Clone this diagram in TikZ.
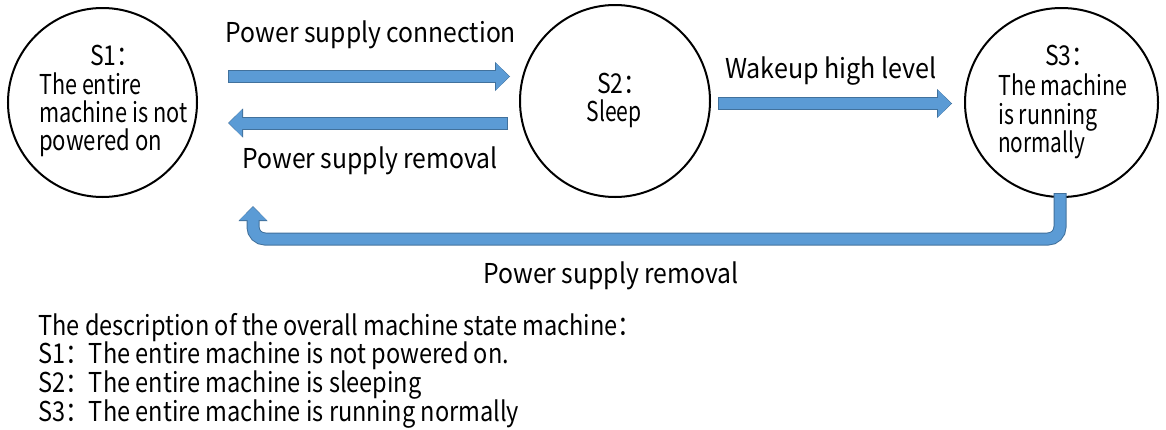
\documentclass[tikz,border=0pt]{standalone}
\usepackage{graphicx}
\usepackage{fontspec}
\setmainfont{Noto Sans CJK SC}
\usetikzlibrary{arrows.meta,shapes.geometric}
\definecolor{afill}{HTML}{5B9BD5}
\definecolor{aedge}{HTML}{41719C}
\newcommand{\fw}[2]{\resizebox{#1pt}{\height}{#2}}
\begin{document}
\begin{tikzpicture}[x=0.75pt,y=-0.75pt,
  state/.style={draw=black, line width=1.5pt, ellipse, inner sep=0pt},
  txt/.style={font=\fontsize{20.5}{22}\selectfont, inner sep=0pt, text height=0.75em, text depth=0.25em},
  bout/.style={draw=aedge, line width=9.75pt, -{Triangle[length=11.25pt,width=21.75pt,line width=0pt]}},
  bin/.style={draw=afill, line width=8.25pt, shorten <=0.75pt, shorten >=0.75pt, -{Triangle[length=9.75pt,width=20.25pt,line width=0pt]}}
]
\fill[white] (0,0) rectangle (1166,429);
\useasboundingbox (0,0) rectangle (1166,429);
% states
\node[state, minimum width=141.75pt, minimum height=141.75pt] (s1) at (102.5,102.5) {};
\node[state, minimum width=142.5pt, minimum height=144pt] (s2) at (615,101) {};
\node[state, minimum width=144.75pt, minimum height=141.75pt] (s3) at (1061.5,102.5) {};
% state texts
\node[txt, anchor=west] (s1a) at (90,62) {\scalebox{0.84}[1]{S1：}};
\node[txt, anchor=west] (s1b) at (39,91) {\fw{76.5}{The entire}};
\node[txt, anchor=west] (s1c) at (39,119) {\fw{111}{machine is not}};
\node[txt, anchor=west] (s1d) at (39,147) {\fw{92.25}{powered on}};
\node[txt, anchor=west] (s2a) at (597,90) {\scalebox{0.84}[1]{S2：}};
\node[txt] (s2b) at (614,118) {\fw{41.25}{Sleep}};
\node[txt, anchor=west] (s3a) at (1045,62) {\scalebox{0.84}[1]{S3：}};
\node[txt, anchor=west] (s3b) at (998,92) {\fw{96.75}{The machine}};
\node[txt, anchor=west] (s3c) at (998,121) {\fw{74.25}{is running}};
\node[txt, anchor=west] (s3d) at (998,149) {\fw{65.25}{normally}};
% arrow end points
\coordinate (c1a) at (228,76.5);  \coordinate (c1b) at (510,76.5);
\coordinate (c2a) at (508,123);   \coordinate (c2b) at (228,123);
\coordinate (c3a) at (718,103.5); \coordinate (c3b) at (952,103.5);
\coordinate (u0) at (1060,193); \coordinate (u1) at (1060,239);
\coordinate (u2) at (253,239);  \coordinate (u3) at (253,206);
\foreach \s/\e in {c1a/c1b,c2a/c2b,c3a/c3b}{
  \draw[bout] (\s) -- (\e);
  \draw[bin] (\s) -- (\e);
}
\draw[bout, rounded corners=9pt] (u0) -- (u1) -- (u2) -- (u3);
\draw[bin, rounded corners=9pt] (u0) -- (u1) -- (u2) -- (u3);
% arrow labels
\node[txt] (l1) at (371,39) {\fw{217.5}{Power supply connection}};
\node[txt] (l2) at (370,165) {\fw{191.25}{Power supply removal}};
\node[txt] (l3) at (831,75) {\fw{159}{Wakeup high level}};
\node[txt] (l4) at (611,280) {\fw{191.25}{Power supply removal}};
% description
\node[txt, anchor=west] (d0) at (38,332) {\scalebox{0.862}[1]{The description of the overall machine state machine：}};
\node[txt, anchor=west] (d1) at (38,360) {\scalebox{0.862}[1]{S1：The entire machine is not powered on.}};
\node[txt, anchor=west] (d2) at (38,389) {\scalebox{0.862}[1]{S2：The entire machine is sleeping}};
\node[txt, anchor=west] (d3) at (38,418) {\scalebox{0.862}[1]{S3：The entire machine is running normally}};
\end{tikzpicture}
\end{document}
